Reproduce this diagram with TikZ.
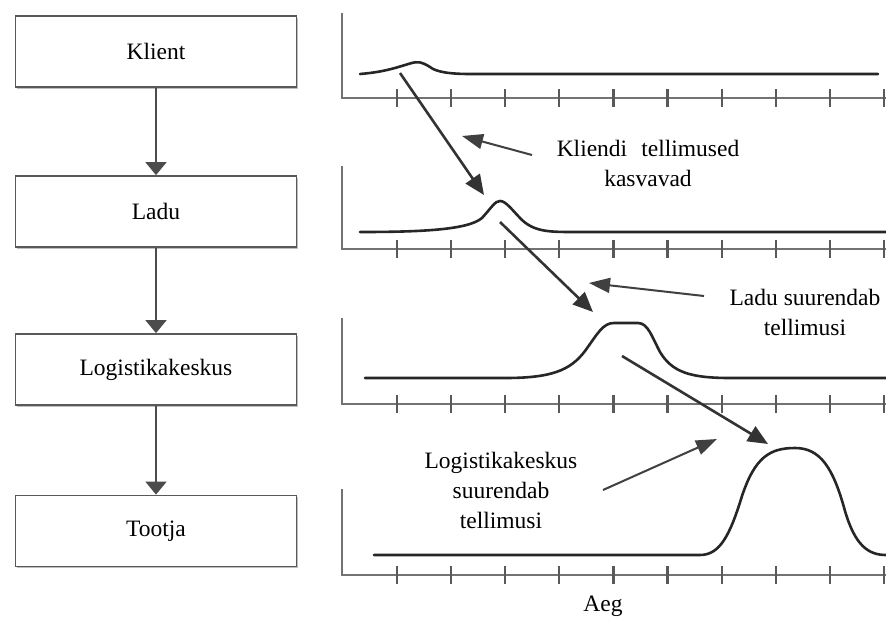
\documentclass[tikz,border=0pt]{standalone}
\usepackage{fontspec}
\setmainfont{Liberation Serif}
\usetikzlibrary{arrows.meta,shadows}
\begin{document}
\begin{tikzpicture}[x=1pt,y=-1pt,
  txt/.style={font=\fontsize{23.5}{30}\selectfont, align=center, inner sep=0pt},
  box/.style={draw=black!65, line width=1.8pt, fill=white, minimum width=281pt, minimum height=71pt,
    font=\fontsize{23.5}{30}\selectfont,
    drop shadow={shadow xshift=1.5pt, shadow yshift=-1.5pt, fill=black!25, opacity=1}},
  flow/.style={draw=black!70, line width=1.8pt, -{Triangle[length=13pt,width=21pt]}},
  axisline/.style={draw=black!55, line width=1.8pt},
  tickmark/.style={draw=black!65, line width=2.2pt},
  curve/.style={draw=black!85, line width=2.6pt, line cap=round},
  bigarrow/.style={draw=black!80, line width=2.6pt, -{Triangle[length=20pt,width=17pt]}},
  labarrow/.style={draw=black!75, line width=2pt, -{Triangle[length=21pt,width=15pt]}},
]
\useasboundingbox[fill=white] (0,0) rectangle (886,619);

% boxes
\node[box] (b1) at (156,51.5) {Klient};
\node[box] (b2) at (156,211.5) {Ladu};
\node[box] (b3) at (156,369.5) {Logistikakeskus};
\node[box] (b4) at (156,531) {Tootja};
\draw[flow] (b1) -- (b2);
\draw[flow] (b2) -- (b3);
\draw[flow] (b3) -- (b4);

% axes
\foreach \A/\T in {98/13, 249/166, 404/318, 575/489}{
  \draw[axisline] (342,\T) -- (342,\A) -- (886,\A);
  \foreach \k in {0,...,9}{
    \draw[tickmark] ({397+54.1*\k},{\A-9}) -- ({397+54.1*\k},{\A+9});
  }
}

% curves
\draw[curve] (360,74) .. controls (385,72) and (398,67) .. (410,63.5)
  .. controls (418,61) and (422,62) .. (430,67)
  .. controls (436,72) and (450,74) .. (470,74) -- (878,74);
\draw[curve] (360,232) .. controls (420,232) and (468,230) .. (482,218)
  .. controls (492,207) and (495,201) .. (500,201)
  .. controls (506,201) and (512,210) .. (522,220)
  .. controls (535,232) and (550,232) .. (575,232) -- (886,232);
\draw[curve] (365,378) -- (505,378) .. controls (550,378) and (570,371) .. (585,351)
  .. controls (598,333) and (603,323) .. (614,323) -- (638,323)
  .. controls (648,323) and (652,337) .. (660,352)
  .. controls (672,372) and (690,378) .. (730,378) -- (886,378);
\draw[curve] (374,555) -- (700,555) .. controls (720,555) and (730,535) .. (742,496)
  .. controls (755,457) and (770,448) .. (795,448)
  .. controls (820,448) and (833,467) .. (845,511)
  .. controls (855,545) and (868,555) .. (886,555);

% labels
\node[txt] (kt) at (648,163) {Kliendi\hspace{0.35em} tellimused\\kasvavad};
\node[txt] (lt) at (805,312) {Ladu suurendab\\tellimusi};
\node[txt] (gt) at (501,490) {Logistikakeskus\\suurendab\\tellimusi};
\node[txt] (aeg) at (603,606) {Aeg};

% arrows
\coordinate (a1s) at (400,73);  \coordinate (a1e) at (484,195);
\coordinate (a2s) at (500,222); \coordinate (a2e) at (593,312);
\coordinate (a3s) at (622,356); \coordinate (a3e) at (768,444);
\coordinate (k1) at (532,155);  \coordinate (k2) at (462,136);
\coordinate (l1) at (704,296);  \coordinate (l2) at (589,283);
\coordinate (g1) at (603,490);  \coordinate (g2) at (717,439);
\draw[bigarrow] (a1s) -- (a1e);
\draw[bigarrow] (a2s) -- (a2e);
\draw[bigarrow] (a3s) -- (a3e);
\draw[labarrow] (k1) -- (k2);
\draw[labarrow] (l1) -- (l2);
\draw[labarrow] (g1) -- (g2);
\end{tikzpicture}
\end{document}
